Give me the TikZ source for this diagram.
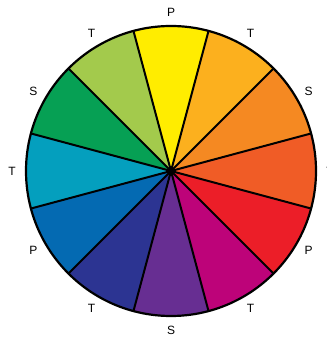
\documentclass[tikz,border=0pt]{standalone}
\usepackage{fontspec}
\setmainfont{Liberation Sans}
\usetikzlibrary{positioning}
\definecolor{wYellow}{RGB}{255,237,0}
\definecolor{wYelOrange}{RGB}{252,176,30}
\definecolor{wOrange}{RGB}{245,137,34}
\definecolor{wRedOrange}{RGB}{240,92,38}
\definecolor{wRed}{RGB}{236,30,40}
\definecolor{wRedViolet}{RGB}{189,3,121}
\definecolor{wViolet}{RGB}{103,46,146}
\definecolor{wBlueViolet}{RGB}{44,52,146}
\definecolor{wBlue}{RGB}{4,106,178}
\definecolor{wBlueGreen}{RGB}{4,159,190}
\definecolor{wGreen}{RGB}{6,160,84}
\definecolor{wYelGreen}{RGB}{163,202,76}
\tikzset{
  spoke/.style={black, line width=2pt, line cap=round},
  rim/.style={draw=black, line width=2.2pt},
  hue/.style={font=\fontsize{12}{14}\selectfont, inner sep=0pt},
}
\begin{document}
\begin{tikzpicture}[x=1pt, y=1pt]
    \clip (0,0) rectangle (326,339);
    \coordinate (c) at (171,168);
    % wedges and labels, clockwise from the top
    \foreach \a/\col/\lab [count=\i] in {90/wYellow/P, 60/wYelOrange/T, 30/wOrange/S,
        0/wRedOrange/T, -30/wRed/P, -60/wRedViolet/T, -90/wViolet/S, -120/wBlueViolet/T,
        -150/wBlue/P, -180/wBlueGreen/T, -210/wGreen/S, -240/wYelGreen/T} {
      \fill[\col] (c) -- ([shift={(\a-15:145)}]c) arc[start angle=\a-15, end angle=\a+15, radius=145] -- cycle;
      \node[hue] (lab\i) at ([shift={(\a:159)}]c) {\lab};
    }
    \foreach \a in {15,45,...,345}
      \draw[spoke] (c) -- ([shift={(\a:145)}]c);
    \draw[rim] (c) circle[radius=145];
    \fill (c) circle[radius=3];
\end{tikzpicture}
\end{document}
